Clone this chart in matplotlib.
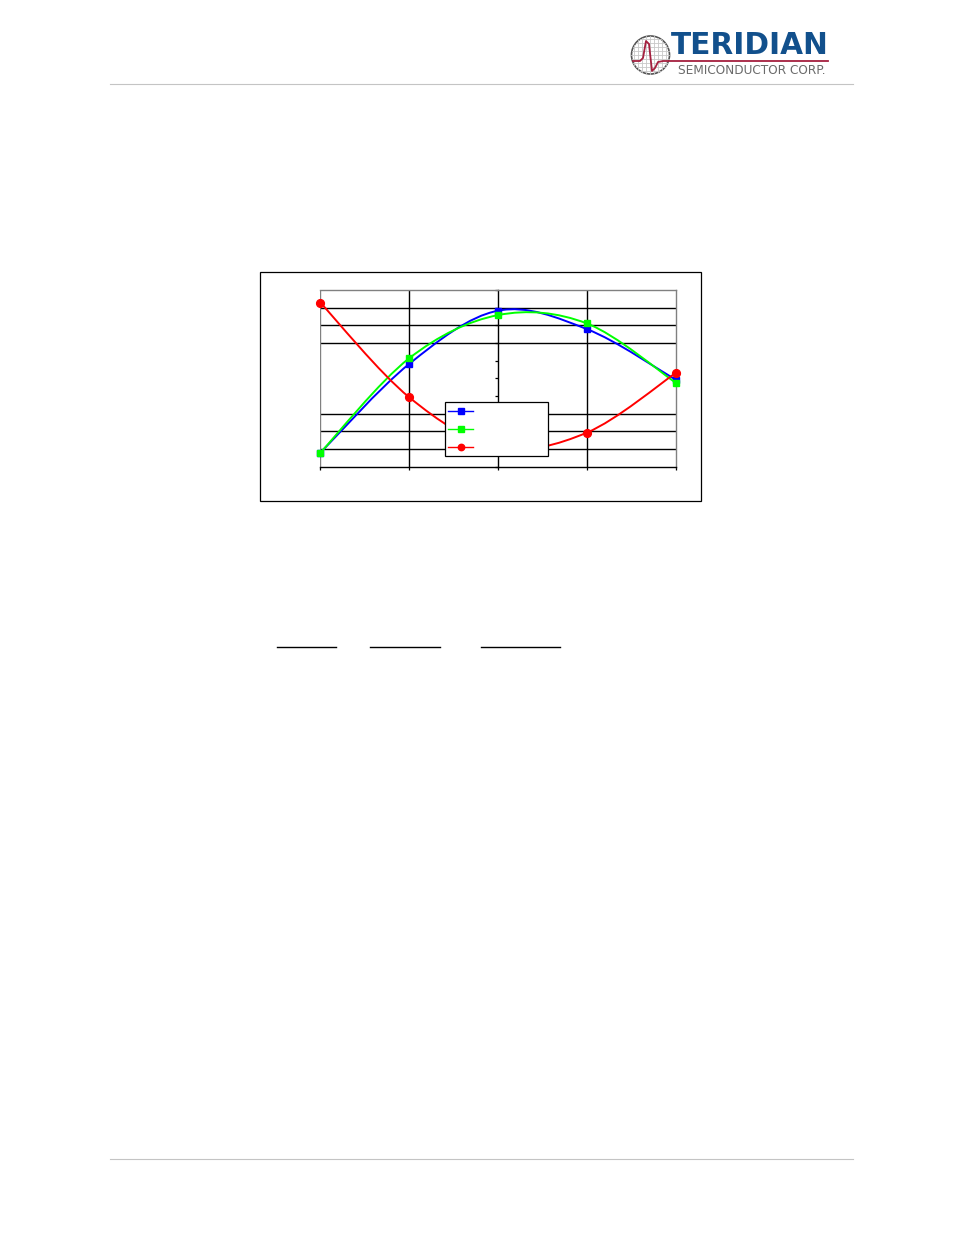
import numpy as np
import matplotlib
matplotlib.use("Agg")
import matplotlib.pyplot as plt
from matplotlib.lines import Line2D
from matplotlib.patches import Circle, PathPatch, Rectangle
from matplotlib.path import Path

# ── Data (y scale in grid steps) ──────────────────────────────────────────────
categories = [0, 1, 2, 3, 4]
blue_vals = [0.79, 5.81, 8.82, 7.78, 4.92]
green_vals = [0.79, 6.13, 8.57, 8.10, 4.75]
red_vals = [9.28, 3.93, 1.10, 1.93, 5.30]
grid_levels = [1, 2, 3, 7, 8, 9]
y_ticks = list(range(11))

W, H = 954, 1235
BLUE = "#0000ff"
GREEN = "#00ff00"
RED = "#ff0000"
GRAY = "#808080"


def smooth_path(xs, ys):
    # same kind of smoothing the spreadsheet uses: bezier through every point
    pts = np.column_stack([xs, ys]).astype(float)
    verts = [pts[0]]
    codes = [Path.MOVETO]
    for i in range(len(pts) - 1):
        before = pts[max(i - 1, 0)]
        after = pts[min(i + 2, len(pts) - 1)]
        verts += [pts[i] + (pts[i + 1] - before) / 6,
                  pts[i + 1] - (after - pts[i]) / 6,
                  pts[i + 1]]
        codes += [Path.CURVE4] * 3
    return Path(verts, codes)


fig = plt.figure(figsize=(W / 100, H / 100), dpi=100, facecolor="white")

# ── Page layer, in pixels ─────────────────────────────────────────────────────
page = fig.add_axes([0, 0, 1, 1], zorder=0)
page.set_xlim(0, W)
page.set_ylim(H, 0)
page.axis("off")

for y in (84.0, 1159.0):
    page.plot([110, 853], [y, y], color="#c4c4c4", lw=0.8)

# chart frame
page.add_patch(Rectangle((260.5, 272.0), 441, 229, fc="white", ec="black", lw=0.9))

# underlines below the chart
for x0, x1 in ((277, 336), (370, 440), (481, 560)):
    page.plot([x0, x1], [647.0, 647.0], color="black", lw=1.0)

# logo
globe = Circle((650.5, 55), 19, fc="white", ec="#555555", lw=1.2, zorder=3)
page.add_patch(globe)
for off in np.arange(-16, 17, 4):
    half = np.sqrt(19 ** 2 - off ** 2)
    page.plot([650.5 + off] * 2, [55 - half, 55 + half], color="#c8c8c8", lw=0.6, zorder=4)
    page.plot([650.5 - half, 650.5 + half], [55 + off] * 2, color="#c8c8c8", lw=0.6, zorder=4)
page.plot([633, 640, 643, 646, 649, 652, 655, 658, 663, 670, 828],
          [61, 61, 58, 41, 44, 71, 68, 62, 61, 61, 61],
          color="#a5203f", lw=1.3, zorder=5)
page.text(671, 54.0, "TERIDIAN", family="DejaVu Sans", weight="bold", fontsize=21.3,
          color="#12508c", va="baseline", ha="left", zorder=6)
page.text(678, 74.5, "SEMICONDUCTOR CORP.", family="DejaVu Sans", fontsize=8.75,
          color="#6a6a6a", va="baseline", ha="left", zorder=6)

# ── Chart ─────────────────────────────────────────────────────────────────────
left, right, top, bottom = 320.3, 675.7, 289.8, 466.8
ax = fig.add_axes([left / W, 1 - bottom / H, (right - left) / W, (bottom - top) / H], zorder=1)
ax.patch.set_alpha(0)
ax.set_xlim(0, 4)
ax.set_ylim(0, 10)

ax.hlines(grid_levels, 0, 4, color="black", lw=1.0, zorder=1)
ax.vlines([1, 3], 0, 10, color="black", lw=1.0, zorder=1)
ax.vlines([0], 0, 10, color=GRAY, lw=1.0, zorder=1)

for side in ("top", "right"):
    ax.spines[side].set_color(GRAY)
    ax.spines[side].set_linewidth(1.0)
ax.spines["bottom"].set_linewidth(1.0)
ax.spines["left"].set_position(("data", 2))
ax.spines["left"].set_linewidth(1.0)

ax.set_xticks(categories)
ax.set_yticks(y_ticks)
ax.tick_params(axis="x", length=2.2, width=0.9, labelbottom=False)
ax.tick_params(axis="y", length=2.0, width=0.9, labelleft=False)

series = [(blue_vals, BLUE, "s", 4.8), (green_vals, GREEN, "s", 4.8), (red_vals, RED, "o", 5.6)]
handles = []
for i, (vals, color, marker, size) in enumerate(series):
    ax.add_patch(PathPatch(smooth_path(categories, vals), fc="none", ec=color, lw=1.4,
                           zorder=3 + i, clip_on=False))
    ax.plot(categories, vals, ls="none", marker=marker, ms=size, color=color,
            zorder=3 + i, clip_on=False)
    handles.append(Line2D([], [], color=color, lw=1.0, marker=marker,
                          ms=size - 0.4 if marker == "s" else size - 1.0))

# legend labels are blank in the reference; box drawn apart to get its height
lx0, lx1, ly0, ly1 = 445.5, 548.5, 402.0, 456.2
ax.add_patch(Rectangle((lx0 / W, 1 - ly1 / H), (lx1 - lx0) / W, (ly1 - ly0) / H,
                       transform=fig.transFigure, fc="white", ec="black", lw=0.9,
                       zorder=9, clip_on=False))
leg = ax.legend(handles, [" ", " ", " "],
                loc="lower left", mode="expand", ncols=1,
                bbox_to_anchor=(lx0 / W, 1 - ly1 / H, (lx1 - lx0) / W, (ly1 - ly0) / H),
                bbox_transform=fig.transFigure,
                fontsize=8, frameon=False, borderaxespad=0, borderpad=0.23,
                handlelength=2.27, handleheight=1.09, handletextpad=0.5, labelspacing=0.64)
leg.set_zorder(10)

fig.savefig("out.png", dpi=100)
